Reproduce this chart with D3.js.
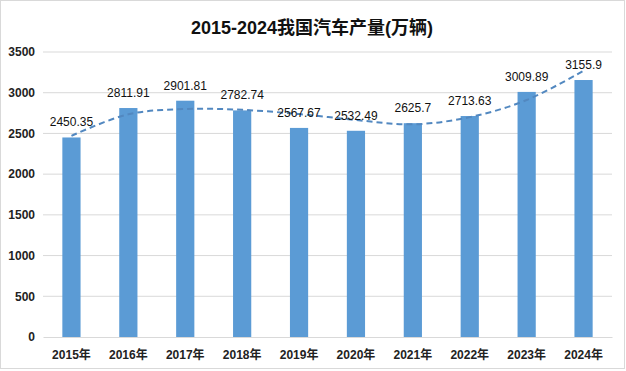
<!DOCTYPE html>
<html>
<head>
    <meta charset="utf-8">
    <script src="https://d3js.org/d3.v7.min.js"></script>
    <style>
        body { margin: 0; background: #fff; }
        text { font-family: "Liberation Sans", "Noto Sans CJK SC", sans-serif; }
    </style>
</head>
<body>
    <div id="chart"></div>
    <script>
        // data
        const years = ["2015年", "2016年", "2017年", "2018年", "2019年", "2020年", "2021年", "2022年", "2023年", "2024年"];
        const output = [2450.35, 2811.91, 2901.81, 2782.74, 2567.67, 2532.49, 2625.7, 2713.63, 3009.89, 3155.9];
        const labels = ["2450.35", "2811.91", "2901.81", "2782.74", "2567.67", "2532.49", "2625.7", "2713.63", "3009.89", "3155.9"];
        // dashed trend line, values estimated at each year
        const trend = [2470, 2735, 2800, 2790, 2738, 2665, 2612, 2700, 2910, 3270];
        const yTicks = [0, 500, 1000, 1500, 2000, 2500, 3000, 3500];

        const W = 626, H = 371;
        const margin = { top: 52, right: 14, bottom: 34, left: 43 };
        const width = W - margin.left - margin.right,
            height = H - margin.top - margin.bottom;

        const root = d3.select("#chart").append("svg")
            .attr("width", W).attr("height", H);

        // outer border
        root.append("rect")
            .attr("x", 0.5).attr("y", 0.5)
            .attr("width", W - 2).attr("height", H - 3)
            .attr("fill", "#fff").attr("stroke", "#d9d9d9");

        // title
        root.append("text")
            .attr("x", 312).attr("y", 34)
            .attr("text-anchor", "middle")
            .style("font-size", "18px")
            .style("font-weight", "bold")
            .attr("fill", "#111")
            .text("2015-2024我国汽车产量(万辆)");

        const svg = root.append("g")
            .attr("transform", `translate(${margin.left},${margin.top})`);

        const x = d3.scaleBand().domain(years).range([0, width])
            .paddingInner(0.68).paddingOuter(0.34);
        const y = d3.scaleLinear().domain([0, 3500]).range([height, 0]);

        // gridlines
        svg.append("g")
            .selectAll("line")
            .data(yTicks.slice(1))
            .join("line")
            .attr("x1", 0).attr("x2", width)
            .attr("y1", d => y(d)).attr("y2", d => y(d))
            .attr("stroke", "#d9d9d9");

        // y axis
        const yAxis = svg.append("g")
            .call(d3.axisLeft(y).tickValues(yTicks).tickFormat(d3.format("d")).tickSize(0).tickPadding(8));
        yAxis.select(".domain").remove();
        yAxis.selectAll("text")
            .style("font-size", "12px")
            .style("font-weight", "bold")
            .attr("fill", "#222");

        // bars
        svg.append("g")
            .selectAll("rect")
            .data(output)
            .join("rect")
            .attr("x", (d, i) => x(years[i]))
            .attr("y", d => y(d))
            .attr("width", x.bandwidth())
            .attr("height", d => height - y(d))
            .attr("fill", "#5b9bd5");

        // x axis
        const xAxis = svg.append("g")
            .attr("transform", `translate(0,${height})`)
            .call(d3.axisBottom(x).tickSize(0).tickPadding(13));
        xAxis.select(".domain").attr("stroke", "#d9d9d9");
        xAxis.selectAll("text")
            .style("font-size", "12px")
            .style("font-weight", "bold")
            .attr("fill", "#222");

        // trend line
        const line = d3.line()
            .x((d, i) => x(years[i]) + x.bandwidth() / 2)
            .y(d => y(d))
            .curve(d3.curveCatmullRom);
        svg.append("path")
            .datum(trend)
            .attr("d", line)
            .attr("fill", "none")
            .attr("stroke", "#5288c0")
            .attr("stroke-width", 2)
            .attr("stroke-dasharray", "6,4");

        // data labels
        svg.append("g")
            .selectAll("text")
            .data(output)
            .join("text")
            .attr("x", (d, i) => x(years[i]) + x.bandwidth() / 2)
            .attr("y", d => y(d) - 11)
            .attr("text-anchor", "middle")
            .style("font-size", "12px")
            .attr("fill", "#111")
            .text((d, i) => labels[i]);
    </script>
</body>
</html>
